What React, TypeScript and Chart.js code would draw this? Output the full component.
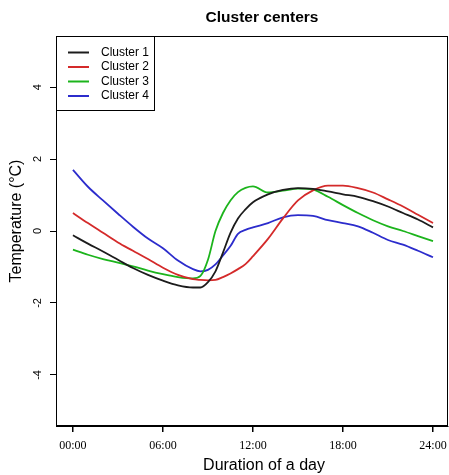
import React, { useEffect, useRef } from "react";
import { Chart, registerables } from "chart.js";

Chart.register(...registerables);

const hours = [0, 1, 2, 3, 4, 5, 6, 7, 8, 8.5, 9, 9.5, 10, 10.5, 11, 11.5, 12, 13, 14, 15, 16, 17, 18, 19, 20, 21, 22, 23, 24];

const cluster1 = [-0.12, -0.35, -0.57, -0.8, -1.03, -1.22, -1.38, -1.51, -1.57, -1.57, -1.42, -1.12, -0.6, -0.05, 0.35, 0.6, 0.8, 1.02, 1.14, 1.19, 1.17, 1.1, 1.02, 0.95, 0.83, 0.68, 0.5, 0.32, 0.1];
const cluster2 = [0.5, 0.22, -0.05, -0.32, -0.55, -0.78, -1.02, -1.22, -1.34, -1.36, -1.37, -1.36, -1.28, -1.18, -1.06, -0.92, -0.7, -0.22, 0.35, 0.85, 1.13, 1.26, 1.26, 1.19, 1.07, 0.88, 0.68, 0.45, 0.22];
const cluster3 = [-0.52, -0.66, -0.78, -0.88, -0.98, -1.1, -1.2, -1.28, -1.32, -1.25, -0.8, 0.0, 0.5, 0.85, 1.08, 1.2, 1.24, 1.07, 1.12, 1.18, 1.15, 0.95, 0.72, 0.5, 0.3, 0.13, 0.0, -0.14, -0.28];
const cluster4 = [1.7, 1.23, 0.85, 0.48, 0.12, -0.21, -0.48, -0.82, -1.06, -1.12, -1.08, -0.93, -0.68, -0.42, -0.08, 0.03, 0.1, 0.22, 0.38, 0.44, 0.42, 0.3, 0.22, 0.13, -0.05, -0.25, -0.38, -0.55, -0.73];

const seriesLabels = ["Cluster 1", "Cluster 2", "Cluster 3", "Cluster 4"];
const seriesColors = ["#1c1c1c", "#d42a2a", "#1cb41c", "#2c2ccc"];

const xTickValues = [0, 6, 12, 18, 24];
const xTickLabels = ["00:00", "06:00", "12:00", "18:00", "24:00"];
const yTickValues = [-4, -2, 0, 2, 4];

const chartTitle = "Cluster centers";
const xTitle = "Duration of a day";
const yTitle = "Temperature (°C)";

const SANS = "Arial, 'Liberation Sans', sans-serif";
const SERIF = "'Liberation Serif', 'Times New Roman', serif";

const decorPlugin = {
  id: "decor",
  afterDraw(chart: any) {
    const { ctx, chartArea } = chart;
    const yScale = chart.scales.y;
    ctx.save();
    // box
    ctx.strokeStyle = "#000";
    ctx.lineWidth = 1;
    ctx.strokeRect(
      Math.round(chartArea.left) + 0.5,
      Math.round(chartArea.top) + 0.5,
      Math.round(chartArea.right - chartArea.left) - 1,
      Math.round(chartArea.bottom - chartArea.top) - 1
    );
    // title
    ctx.fillStyle = "#000";
    ctx.font = `bold 15.5px ${SANS}`;
    ctx.textAlign = "center";
    ctx.textBaseline = "middle";
    ctx.fillText(chartTitle, 262, 18);
    // x title
    ctx.font = `16px ${SANS}`;
    ctx.fillText(xTitle, 264, 466);
    // y title
    ctx.save();
    ctx.translate(17, 221);
    ctx.rotate(-Math.PI / 2);
    ctx.fillText(yTitle, 0, 0);
    ctx.restore();
    // y tick labels
    ctx.font = `11px ${SANS}`;
    yTickValues.forEach((v) => {
      const py = yScale.getPixelForValue(v);
      ctx.save();
      ctx.translate(38, py);
      ctx.rotate(-Math.PI / 2);
      ctx.fillText(String(v), 0, 0);
      ctx.restore();
    });
    // legend
    const lx = chartArea.left;
    const ly = chartArea.top;
    ctx.fillStyle = "#fff";
    ctx.fillRect(lx + 1, ly + 1, 97, 73);
    ctx.strokeStyle = "#000";
    ctx.strokeRect(Math.round(lx) + 0.5, Math.round(ly) + 0.5, 98, 74);
    ctx.font = `12px ${SANS}`;
    ctx.textAlign = "left";
    ctx.textBaseline = "middle";
    chart.data.datasets.forEach((ds: any, i: number) => {
      const yy = ly + 16.5 + i * 14.5;
      ctx.strokeStyle = ds.borderColor;
      ctx.lineWidth = 2;
      ctx.beginPath();
      ctx.moveTo(lx + 12, yy);
      ctx.lineTo(lx + 33, yy);
      ctx.stroke();
      ctx.fillStyle = "#000";
      ctx.fillText(ds.label, lx + 45, yy);
    });
    ctx.restore();
  },
};

export default function App() {
  const ref = useRef<HTMLCanvasElement | null>(null);
  useEffect(() => {
    if (!ref.current) return;
    const series = [cluster1, cluster2, cluster3, cluster4];
    const chart = new Chart(ref.current, {
      type: "line",
      data: {
        datasets: series.map((vals, i) => ({
          label: seriesLabels[i],
          data: hours.map((h, j) => ({ x: h, y: vals[j] })),
          borderColor: seriesColors[i],
          backgroundColor: seriesColors[i],
          borderWidth: 1.8,
          pointRadius: 0,
          cubicInterpolationMode: "monotone" as const,
          fill: false,
        })),
      },
      options: {
        animation: false,
        responsive: false,
        layout: { padding: { top: 36, right: 1, left: 0, bottom: 0 } },
        plugins: {
          legend: { display: false },
          title: { display: false },
          tooltip: { enabled: false },
        },
        scales: {
          x: {
            type: "linear",
            min: -1.13,
            max: 25,
            afterBuildTicks: (s: any) => {
              s.ticks = xTickValues.map((v) => ({ value: v }));
            },
            afterFit: (s: any) => {
              s.height = 49;
              s.paddingLeft = 0;
              s.paddingRight = 0;
            },
            grid: { drawOnChartArea: false, color: "#000", tickLength: 6, lineWidth: 1.5 },
            border: { display: true, color: "#000" },
            ticks: {
              autoSkip: false,
              maxRotation: 0,
              padding: 7,
              color: "#000",
              font: { family: SERIF, size: 12 },
              callback: (v: any) => {
                const k = xTickValues.indexOf(Number(v));
                return k >= 0 ? xTickLabels[k] : "";
              },
            },
          },
          y: {
            type: "linear",
            min: -5.42,
            max: 5.42,
            afterBuildTicks: (s: any) => {
              s.ticks = yTickValues.map((v) => ({ value: v }));
            },
            afterFit: (s: any) => {
              s.width = 56;
              s.paddingTop = 0;
              s.paddingBottom = 0;
            },
            grid: { drawOnChartArea: false, color: "#000", tickLength: 6 },
            border: { display: true, color: "#000" },
            ticks: { display: false },
          },
        },
      },
      plugins: [decorPlugin],
    });
    return () => chart.destroy();
  }, []);
  return (
    <div style={{ position: "fixed", left: 0, top: 0, width: 449, height: 475, background: "#fff" }}>
      <canvas ref={ref} width={449} height={475} style={{ display: "block" }} />
    </div>
  );
}
